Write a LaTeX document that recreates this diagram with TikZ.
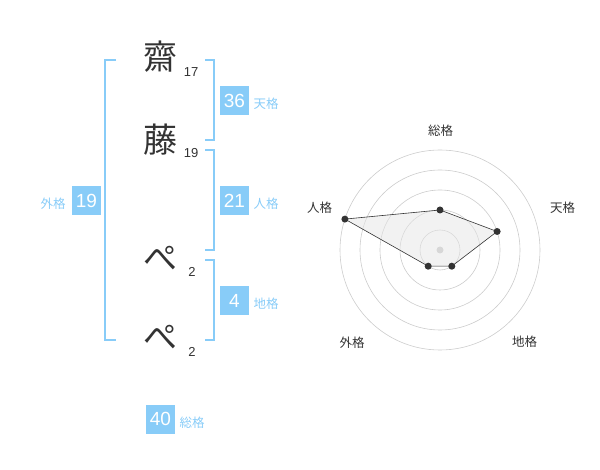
\documentclass[tikz,border=0pt]{standalone}
\usepackage{fontspec}
\setmainfont{Liberation Sans}
\newfontfamily\jp{Noto Sans CJK JP}
\definecolor{kblue}{HTML}{88CCF8}
\definecolor{ktext}{HTML}{333333}
\definecolor{kring}{HTML}{CCCCCC}
\definecolor{kfill}{HTML}{E6E6E6}
\definecolor{kdot}{HTML}{C8C8C8}
\begin{document}
\begin{tikzpicture}[x=1pt,y=-1pt,
  kanji/.style={font=\jp\fontsize{34}{34}\selectfont, text=ktext, inner sep=0pt},
  strokes/.style={font=\fontsize{13}{13}\selectfont, text=ktext, inner sep=0pt},
  brk/.style={draw=kblue, line width=2pt},
  numbox/.style={fill=kblue, text=white, font=\fontsize{19}{19}\selectfont, minimum width=29pt, minimum height=29pt, inner sep=0pt},
  kaku/.style={font=\jp\fontsize{12.5}{12.5}\selectfont, text=kblue, inner sep=0pt},
  rlabel/.style={font=\jp\fontsize{12.5}{12.5}\selectfont, text=ktext, inner sep=0pt},
  ring/.style={draw=kring, line width=0.6pt},
  rpt/.style={circle, fill=ktext, inner sep=0pt, minimum size=7pt}
]
\useasboundingbox (0,0) rectangle (600,470);
% characters
\node[kanji] (c1) at (160,57) {齋};
\node[kanji] (c2) at (160,140) {藤};
\node[kanji] (c3) at (160,258) {ぺ};
\node[kanji] (c4) at (160,337) {ぺ};
\node[strokes] (s1) at (191,72) {17};
\node[strokes] (s2) at (191,153) {19};
\node[strokes] (s3) at (192,272) {2};
\node[strokes] (s4) at (192,352) {2};
% brackets
\draw[brk] (116,60) -- (105,60) -- (105,340) -- (116,340);
\draw[brk] (205,60) -- (214,60) -- (214,140) -- (205,140);
\draw[brk] (205,150) -- (214,150) -- (214,250) -- (205,250);
\draw[brk] (205,260) -- (214,260) -- (214,340) -- (205,340);
% boxes
\node[numbox] (ten) at (234.5,100.5) {36};
\node[kaku] (tenlab) at (266,104) {天格};
\node[numbox] (jin) at (234.5,200.5) {21};
\node[kaku] (jinlab) at (266,204) {人格};
\node[numbox] (chi) at (234.5,300.5) {4};
\node[kaku] (chilab) at (266,304) {地格};
\node[numbox] (gai) at (86.5,200.5) {19};
\node[kaku] (gailab) at (53,204) {外格};
\node[numbox] (sou) at (160.5,419) {40};
\node[kaku] (soulab) at (192,423) {総格};
% radar
\coordinate (O) at (440,250);
\foreach \r in {20,40,60,80,100} \draw[ring] (O) circle[radius=\r];
\fill[kdot] (O) circle[radius=3.5];
\coordinate (pS) at (440,210);
\coordinate (pT) at (497.1,231.5);
\coordinate (pC) at (451.8,266.2);
\coordinate (pG) at (428.2,266.2);
\coordinate (pJ) at (344.9,219.1);
\fill[kfill, fill opacity=0.5] (pS) -- (pT) -- (pC) -- (pG) -- (pJ) -- cycle;
\draw[draw=ktext, line width=0.6pt] (pS) -- (pT) -- (pC) -- (pG) -- (pJ) -- cycle;
\foreach \p in {pS,pT,pC,pG,pJ} \node[rpt] at (\p) {};
\node[rlabel] (lS) at (440.5,130.5) {総格};
\node[rlabel] (lT) at (562.5,208) {天格};
\node[rlabel] (lJ) at (319.5,208) {人格};
\node[rlabel] (lG) at (352,342.5) {外格};
\node[rlabel] (lC) at (524.5,342) {地格};
\end{tikzpicture}
\end{document}
